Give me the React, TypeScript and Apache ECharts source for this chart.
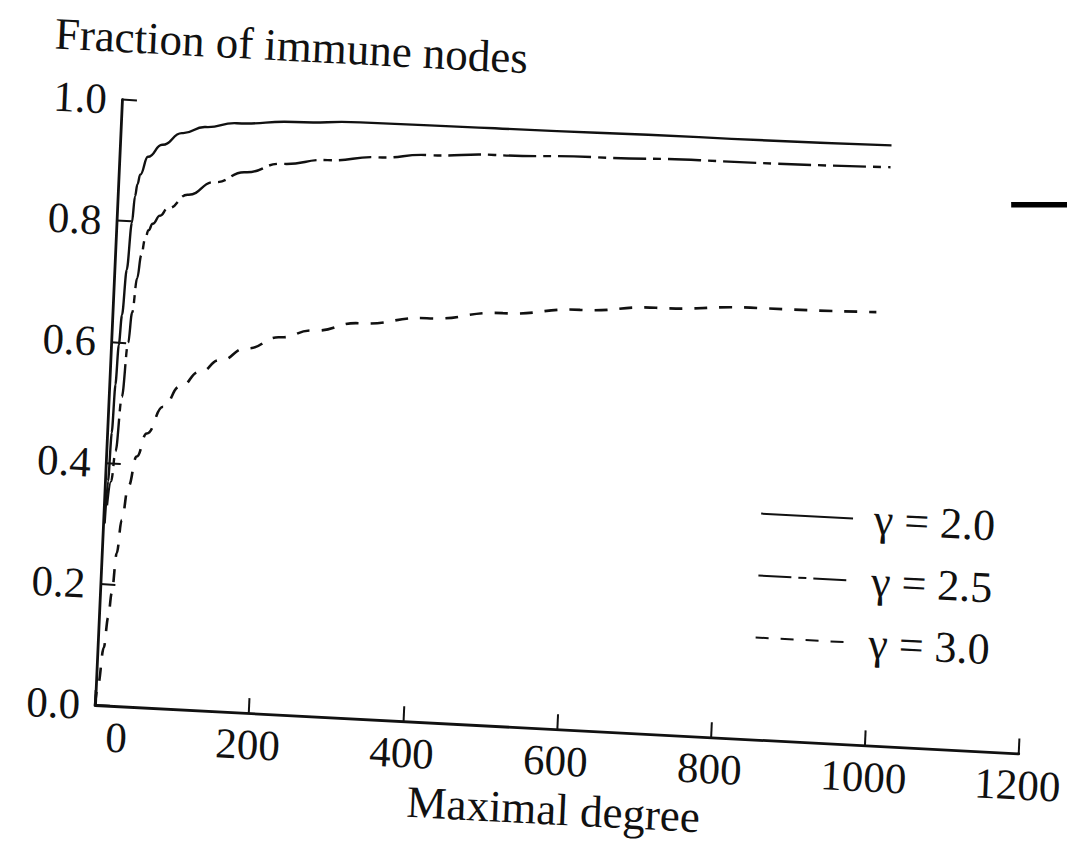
import React, { useEffect, useRef } from 'react';
import * as echarts from 'echarts';

const FONT = '"Liberation Serif", "Times New Roman", serif';
const INK = '#111';

// Axis ranges / ticks
const xMin = 0;
const xMax = 1200;
const xStep = 200;
const yMin = 0;
const yMax = 1;
const yStep = 0.2;

const yAxisTitle = 'Fraction of immune nodes';
const xAxisTitle = 'Maximal degree';
const seriesNames = ['γ = 2.0', 'γ = 2.5', 'γ = 3.0'];

// gamma = 2.0 (solid)
const deg20 = [2, 4, 6, 8, 10, 12.5, 16, 20, 22.5, 25, 28, 37, 55, 80, 110, 150, 225, 310, 400, 485, 750, 1000];
const frac20 = [0.30, 0.37, 0.45, 0.53, 0.595, 0.645, 0.72, 0.798, 0.842, 0.862, 0.878, 0.908, 0.929, 0.950, 0.962, 0.971, 0.978, 0.983, 0.984, 0.985, 0.988, 0.991];

// gamma = 2.5 (dash-dot)
const deg25 = [4, 8, 12, 17, 22, 25.5, 30, 34, 38, 42, 47, 56, 66, 91, 125, 164, 211, 270, 335, 400, 486, 620, 752, 1000];
const frac25 = [0.33, 0.37, 0.42, 0.51, 0.60, 0.65, 0.707, 0.745, 0.772, 0.787, 0.798, 0.812, 0.825, 0.849, 0.872, 0.891, 0.908, 0.918, 0.927, 0.935, 0.941, 0.946, 0.950, 0.955];

// gamma = 3.0 (dashed)
const deg30 = [0, 3, 8, 12, 15.2, 19.4, 23.9, 30.6, 39.7, 51.3, 71.3, 91.8, 116.8, 142, 176, 218.5, 261, 321, 408, 506, 606, 704, 836, 990];
const frac30 = [0, 0.035, 0.095, 0.145, 0.186, 0.252, 0.307, 0.363, 0.413, 0.452, 0.4975, 0.532, 0.558, 0.579, 0.601, 0.622, 0.636, 0.652, 0.666, 0.681, 0.693, 0.703, 0.7115, 0.715];

const pairs = (xs: number[], ys: number[]) => xs.map((x, i) => [x, ys[i]]);

const lineSeries = (name: string, data: number[][], type: any, width: number) => ({
  name,
  type: 'line',
  data,
  symbol: 'none',
  showSymbol: false,
  smooth: 0.5,
  smoothMonotone: 'x',
  silent: true,
  lineStyle: { color: INK, width, type, cap: 'butt' },
  itemStyle: { color: INK },
});

export default function App() {
  const ref = useRef<HTMLDivElement>(null);

  useEffect(() => {
    if (!ref.current) return;
    const chart = echarts.init(ref.current, null, { renderer: 'svg' });
    const option: any = {
      animation: false,
      textStyle: { fontFamily: FONT, color: INK },
      title: {
        text: yAxisTitle,
        left: 25,
        top: 14,
        padding: 0,
        textStyle: { fontFamily: FONT, fontSize: 45, fontWeight: 'normal', color: INK },
      },
      grid: { left: 95, right: 47, top: 99, bottom: 136, containLabel: false, outerBoundsMode: 'none' },
      legend: {
        orient: 'vertical',
        left: 751,
        top: 457,
        padding: 0,
        itemGap: 18,
        itemWidth: 92,
        itemHeight: 14,
        selectedMode: false,
        data: seriesNames,
        itemStyle: { opacity: 0, borderWidth: 0 },
        lineStyle: { opacity: 1 },
        textStyle: { fontFamily: FONT, fontSize: 44, color: INK, padding: [0, 0, 0, 16] },
      },
      xAxis: {
        type: 'value',
        min: xMin,
        max: xMax,
        interval: xStep,
        name: xAxisTitle,
        nameLocation: 'middle',
        nameGap: 46,
        nameTextStyle: { fontFamily: FONT, fontSize: 45, color: INK },
        axisLine: { show: true, lineStyle: { color: INK, width: 2.8 } },
        axisTick: { show: true, inside: true, length: 15, lineStyle: { color: INK, width: 2 } },
        axisLabel: {
          margin: 10,
          fontFamily: FONT,
          fontSize: 43,
          color: INK,
          formatter: (v: number) => (v === 0 ? '{z|0}' : String(v)),
          rich: { z: { padding: [0, 0, 0, 45], fontFamily: FONT, fontSize: 43, color: INK } },
        },
        splitLine: { show: false },
      },
      yAxis: {
        type: 'value',
        min: yMin,
        max: yMax,
        interval: yStep,
        axisLine: { show: true, lineStyle: { color: INK, width: 2.8 } },
        axisTick: { show: true, inside: true, length: 15, lineStyle: { color: INK, width: 2 } },
        axisLabel: {
          margin: 15,
          fontFamily: FONT,
          fontSize: 43,
          color: INK,
          formatter: (v: number) => v.toFixed(1),
        },
        splitLine: { show: false },
      },
      graphic: [
        {
          type: 'rect',
          x: 1016,
          y: 156,
          rotation: 0.0524,
          shape: { x: -28, y: -2.75, width: 56, height: 5.5 },
          style: { fill: '#000' },
          silent: true,
        },
      ],
      series: [
        lineSeries(seriesNames[0], pairs(deg20, frac20), 'solid', 2.4),
        lineSeries(seriesNames[1], pairs(deg25, frac25), [33, 7, 8, 7], 2.4),
        lineSeries(seriesNames[2], pairs(deg30, frac30), [13, 12], 2.6),
      ],
    };
    chart.setOption(option);
    return () => chart.dispose();
  }, []);

  return (
    <div
      style={{
        position: 'absolute',
        left: 0,
        top: 0,
        width: 1067,
        height: 841,
        overflow: 'hidden',
        background: '#fff',
      }}
    >
      <div
        ref={ref}
        style={{
          position: 'absolute',
          left: 0,
          top: 0,
          width: 1067,
          height: 841,
          transform: 'matrix(0.99863, 0.05234, -0.0445, 0.99901, 0, 0)',
          transformOrigin: '95px 705px',
        }}
      />
    </div>
  );
}
